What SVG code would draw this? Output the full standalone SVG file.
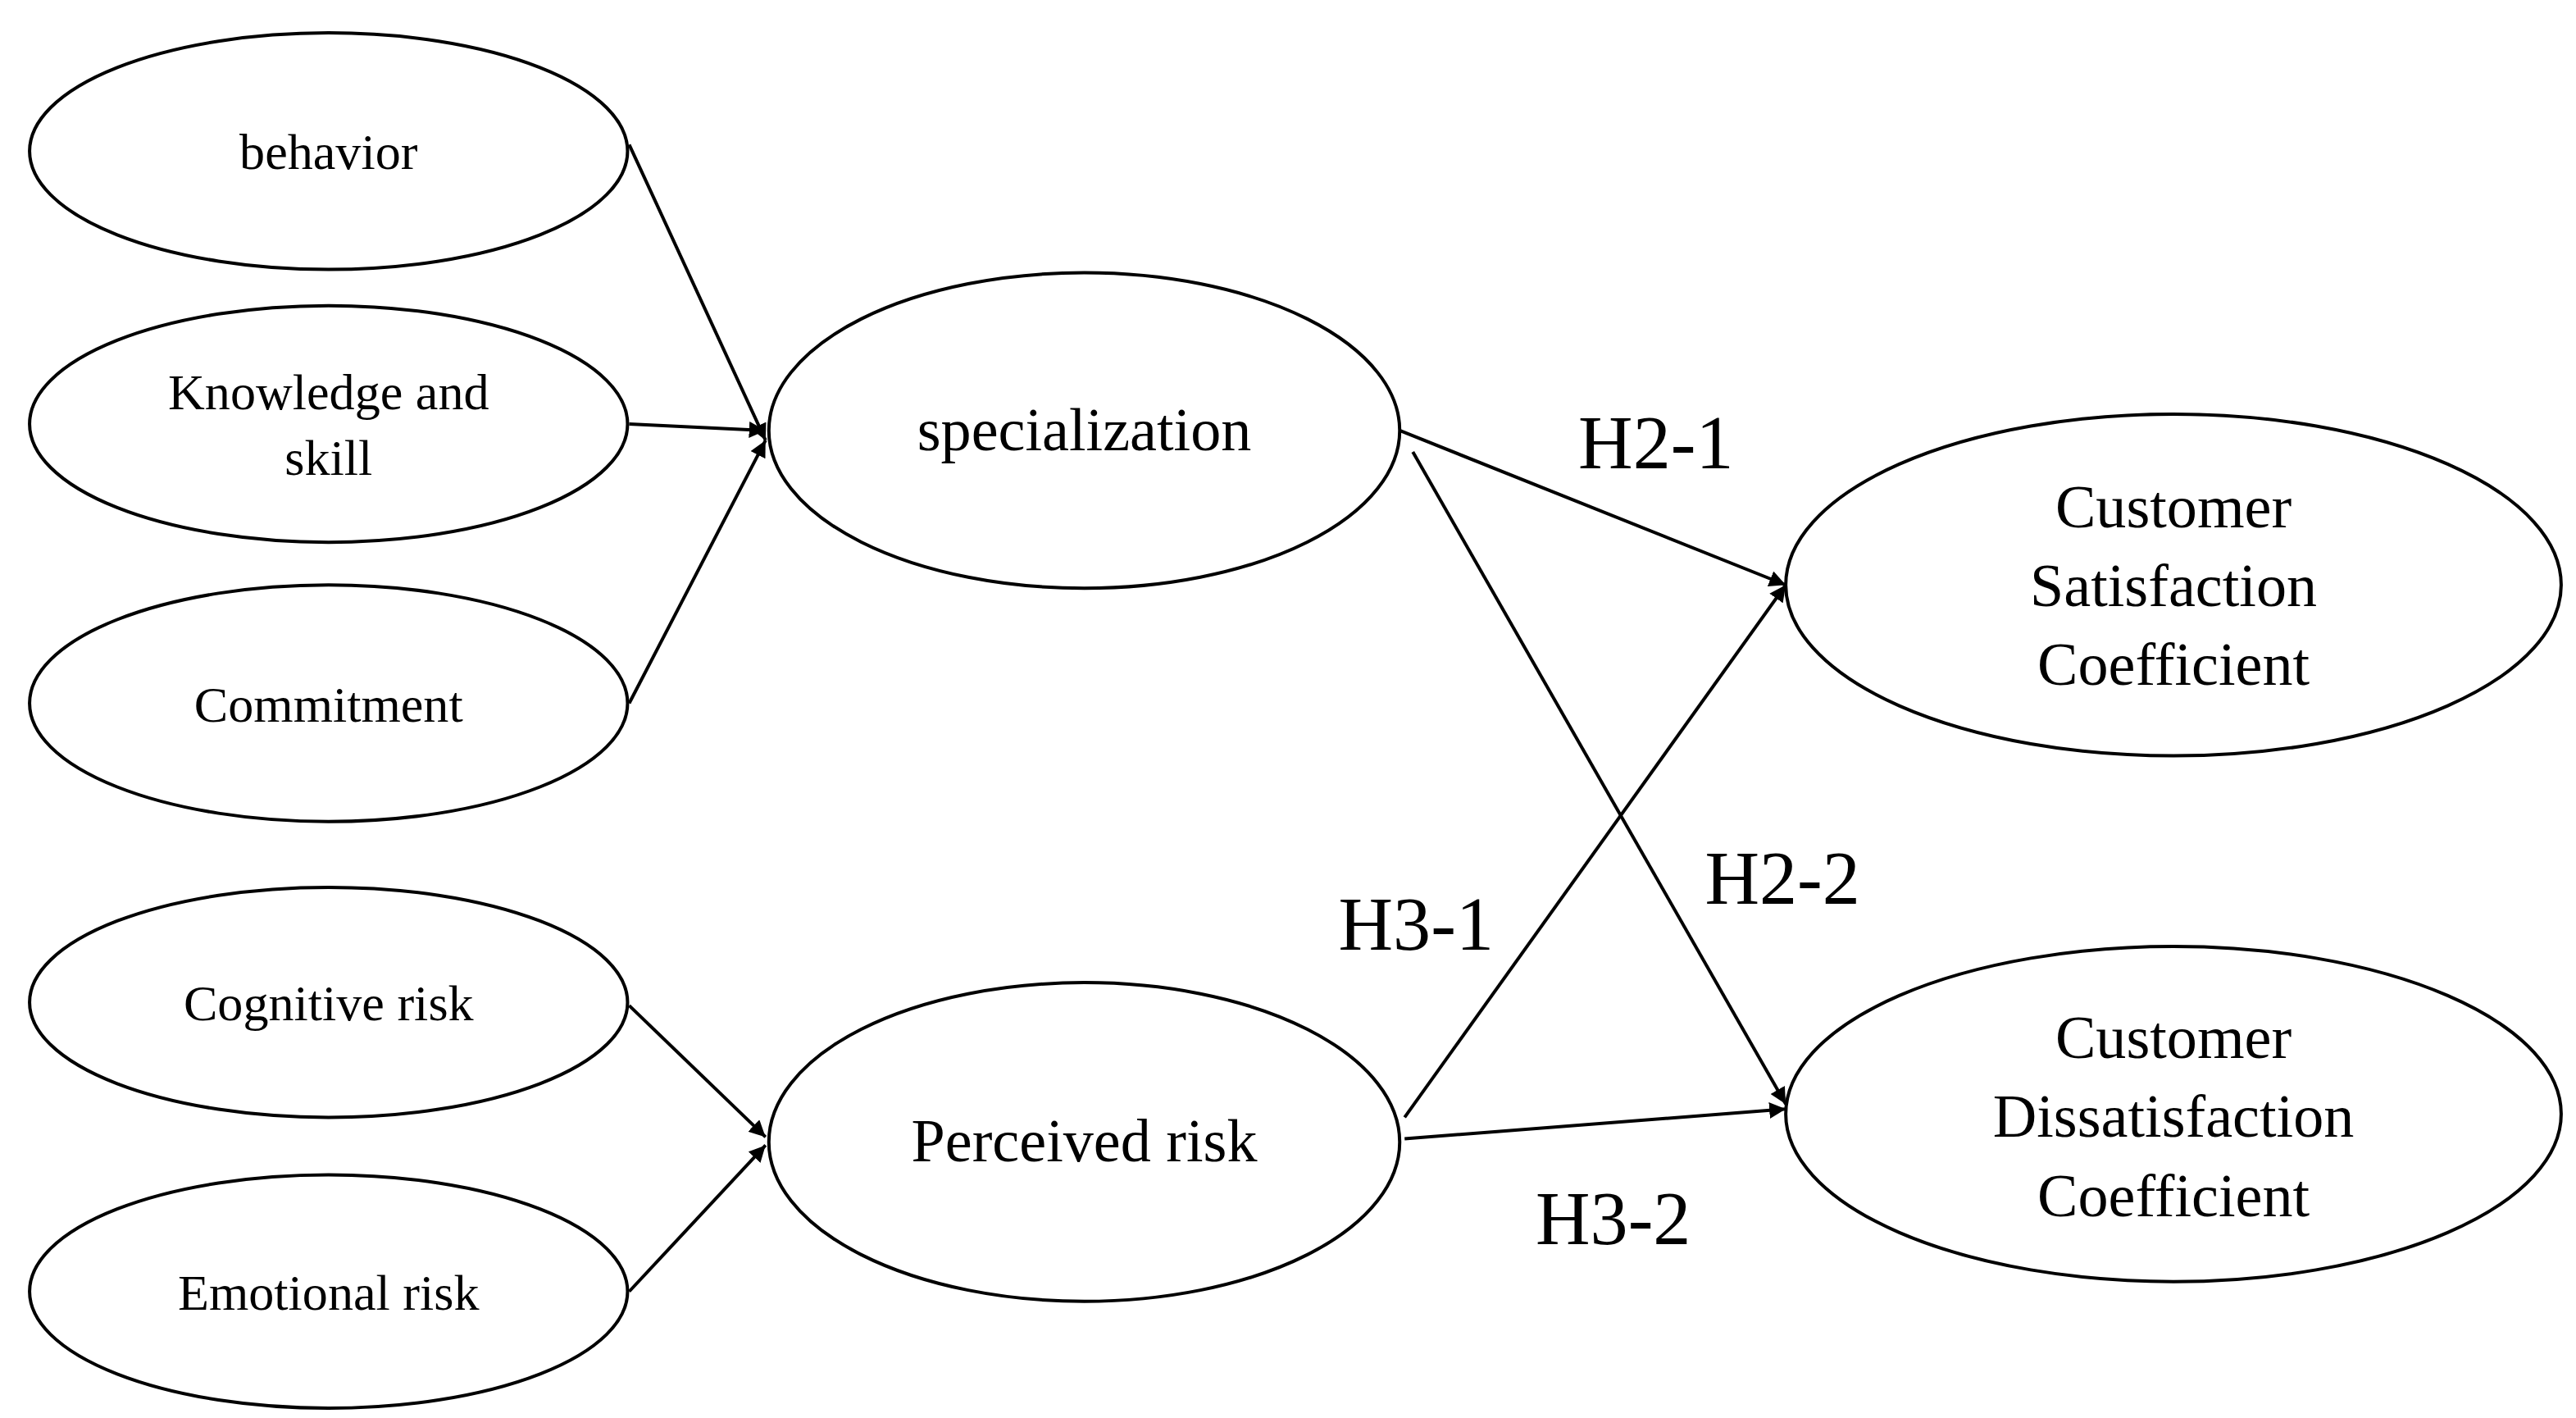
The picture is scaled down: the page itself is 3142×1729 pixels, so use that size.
<svg xmlns="http://www.w3.org/2000/svg" width="3142" height="1729" viewBox="0 0 3142 1729">
<style>
ellipse{fill:#fff;stroke:#000;stroke-width:2}
text{font-family:"Liberation Serif",serif;fill:#000;text-anchor:middle}
.s{font-size:31px}.m{font-size:37px}.h{font-size:46px}
.c line{stroke:#000;stroke-width:2;marker-end:url(#a)}
</style>
<defs><marker id="a" viewBox="0 0 10 10" refX="10" refY="5" markerWidth="10" markerHeight="10" markerUnits="userSpaceOnUse" orient="auto"><path d="M0,0L10,5L0,10z" fill="#000"/></marker></defs>
<rect width="3142" height="1729" fill="#fff"/>
<g transform="scale(2.0038,2.0035)">
<g class="c" id="connectors">
<line x1="383" y1="88" x2="466" y2="268"/>
<line x1="383" y1="258" x2="466" y2="262"/>
<line x1="383" y1="428" x2="466" y2="268"/>
<line x1="852" y1="262" x2="1087" y2="356"/>
<line x1="860" y1="275" x2="1087" y2="672"/>
<line x1="855" y1="680" x2="1087" y2="356"/>
<line x1="855" y1="693" x2="1087" y2="675"/>
<line x1="383" y1="612" x2="466" y2="692"/>
<line x1="383" y1="786" x2="466" y2="697"/>
<text class="h" x="1008" y="285">H2-1</text>
<text class="h" x="1085" y="550">H2-2</text>
<text class="h" x="862" y="578">H3-1</text>
<text class="h" x="982" y="757">H3-2</text>
</g>
<g id="behavior"><ellipse cx="200" cy="92" rx="182" ry="72"/><text class="s" x="200" y="103">behavior</text></g>
<g id="knowledge"><ellipse cx="200" cy="258" rx="182" ry="72"/><text class="s" x="200" y="249">Knowledge and</text><text class="s" x="200" y="289">skill</text></g>
<g id="commitment"><ellipse cx="200" cy="428" rx="182" ry="72"/><text class="s" x="200" y="439">Commitment</text></g>
<g id="cognitive"><ellipse cx="200" cy="610" rx="182" ry="70"/><text class="s" x="200" y="621">Cognitive risk</text></g>
<g id="emotional"><ellipse cx="200" cy="786" rx="182" ry="71"/><text class="s" x="200" y="797">Emotional risk</text></g>
<g id="specialization"><ellipse cx="660" cy="262" rx="192" ry="96"/><text class="m" x="660" y="274">specialization</text></g>
<g id="perceived"><ellipse cx="660" cy="695" rx="192" ry="97"/><text class="m" x="660" y="707">Perceived risk</text></g>
<g id="satisfaction"><ellipse cx="1323" cy="356" rx="236" ry="104"/><text class="m" x="1323" y="321">Customer</text><text class="m" x="1323" y="369">Satisfaction</text><text class="m" x="1323" y="417">Coefficient</text></g>
<g id="dissatisfaction"><ellipse cx="1323" cy="678" rx="236" ry="102"/><text class="m" x="1323" y="644">Customer</text><text class="m" x="1323" y="692">Dissatisfaction</text><text class="m" x="1323" y="740">Coefficient</text></g>
</g>
</svg>
